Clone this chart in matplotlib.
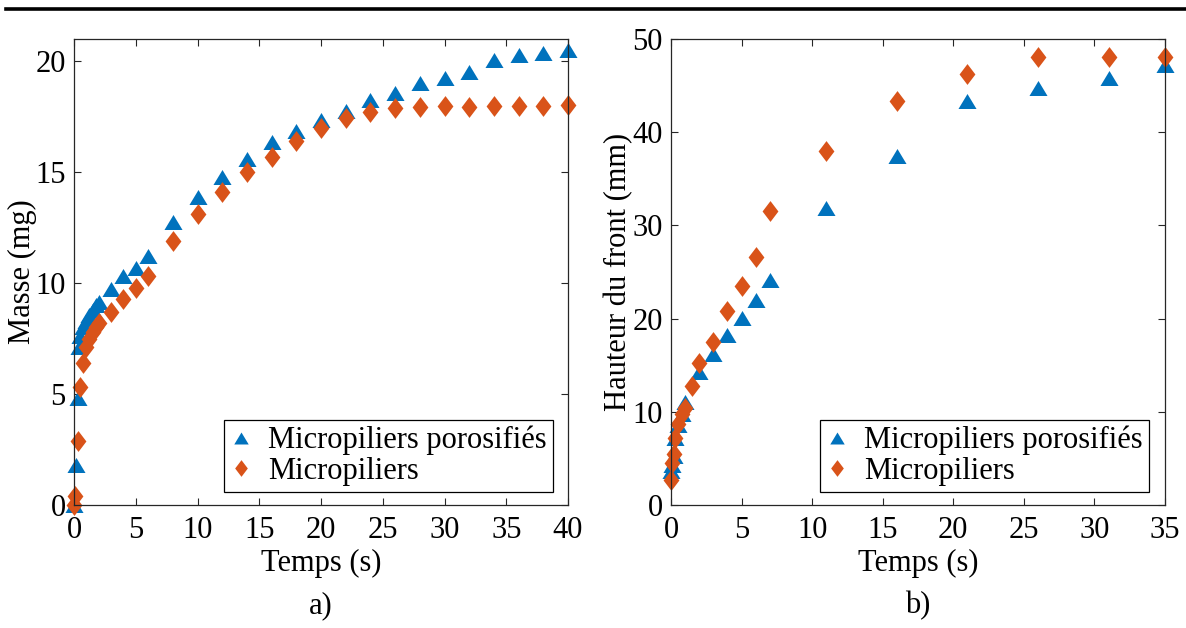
import numpy as np
import matplotlib
matplotlib.use("Agg")
from matplotlib import pyplot as plt
from matplotlib.lines import Line2D

plt.rcParams['font.family'] = ['Liberation Serif', 'DejaVu Serif']

BLUE = '#0072BD'
ORANGE = '#D95319'
AXCOL = '#262626'
FS = 22

# a) masse vs temps
t_masse_poro = [0, 0.15, 0.3, 0.4, 0.5, 0.75, 1, 1.25, 1.5, 1.75, 2, 3, 4, 5, 6,
                8, 10, 12, 14, 16, 18, 20, 22, 24, 26, 28, 30, 32, 34, 36, 38, 40]
m_poro = [0, 1.8, 4.8, 7.1, 7.6, 8.0, 8.3, 8.55, 8.8, 9.0, 9.15, 9.75, 10.3, 10.7, 11.2,
          12.75, 13.9, 14.8, 15.6, 16.35, 16.85, 17.35, 17.75, 18.25, 18.55, 19.0, 19.25,
          19.5, 20.05, 20.27, 20.37, 20.5]
t_masse_micro = [0, 0.1, 0.3, 0.5, 0.75, 1, 1.25, 1.5, 1.75, 2, 3, 4, 5, 6,
                 8, 10, 12, 14, 16, 18, 20, 22, 24, 26, 28, 30, 32, 34, 36, 38, 40]
m_micro = [0, 0.4, 2.9, 5.3, 6.4, 7.1, 7.5, 7.8, 8.0, 8.2, 8.7, 9.3, 9.8, 10.3,
           11.9, 13.1, 14.1, 15.0, 15.7, 16.4, 17.0, 17.45, 17.7, 17.9, 17.95, 17.97,
           17.95, 17.97, 18.0, 18.0, 18.02]

# b) hauteur du front vs temps
t_front_poro = [0, 0.1, 0.2, 0.3, 0.5, 0.75, 1, 2, 3, 4, 5, 6, 7, 11, 16, 21, 26, 31, 35]
h_poro = [3.6, 4.3, 5.3, 7.2, 8.6, 9.8, 11.1, 14.3, 16.2, 18.2, 20.1, 22.0, 24.1,
          31.9, 37.4, 43.3, 44.7, 45.8, 47.2]
t_front_micro = [0, 0.1, 0.2, 0.3, 0.5, 0.75, 1, 1.5, 2, 3, 4, 5, 6, 7, 11, 16, 21, 26, 31, 35]
h_micro = [2.7, 4.5, 5.5, 7.2, 8.7, 9.8, 10.4, 12.8, 15.2, 17.5, 20.8, 23.5, 26.6, 31.5,
           38.0, 43.4, 46.2, 48.1, 48.1, 48.1]

labels = ['Micropiliers porosifiés', 'Micropiliers']

tri = [(-1, -0.83), (1, -0.83), (0, 0.83)]
dia = [(0, 1), (0.76, 0), (0, -1), (-0.76, 0)]

W, H = 1186, 628
fig = plt.figure(figsize=(W / 100, H / 100), dpi=100)

# top rule
fig.add_artist(Line2D([6 / W, 1], [1 - 9 / H, 1 - 9 / H], color='black', lw=2.6))

ax1 = fig.add_axes([74 / W, 1 - 505 / H, 494 / W, 466 / H])
ax2 = fig.add_axes([671 / W, 1 - 505 / H, 494 / W, 466 / H])


def style(ax):
    for s in ax.spines.values():
        s.set_color(AXCOL)
        s.set_linewidth(0.9)
    ax.tick_params(direction='in', top=True, right=True, length=5, width=0.8,
                   color=AXCOL, labelsize=FS, pad=6)
    ax.tick_params(axis='x', pad=8)


ax1.plot(t_masse_poro, m_poro, ls='none', marker=tri, ms=13, color=BLUE, mew=0,
         label=labels[0], clip_on=False)
ax1.plot(t_masse_micro, m_micro, ls='none', marker=dia, ms=15, color=ORANGE, mew=0,
         label=labels[1], clip_on=False)
ax1.set_xlim(0, 40)
ax1.set_ylim(0, 21)
ax1.set_xticks(np.arange(0, 41, 5))
ax1.set_yticks(np.arange(0, 21, 5))
ax1.set_xlabel('Temps (s)', fontsize=FS, labelpad=3)
ax1.set_ylabel('Masse (mg)', fontsize=FS, labelpad=-1)
style(ax1)

ax2.plot(t_front_poro, h_poro, ls='none', marker=tri, ms=13, color=BLUE, mew=0,
         label=labels[0], clip_on=False)
ax2.plot(t_front_micro, h_micro, ls='none', marker=dia, ms=15, color=ORANGE, mew=0,
         label=labels[1], clip_on=False)
ax2.set_xlim(0, 35)
ax2.set_ylim(0, 50)
ax2.set_xticks(np.arange(0, 36, 5))
ax2.set_yticks(np.arange(0, 51, 10))
ax2.set_xlabel('Temps (s)', fontsize=FS, labelpad=3)
ax2.set_ylabel('Hauteur du front (mm)', fontsize=FS, labelpad=-1)
style(ax2)

for ax, right in [(ax1, 553), (ax2, 1149)]:
    leg = ax.legend(loc='lower right', bbox_to_anchor=(right / W, 1 - 492 / H),
                    bbox_transform=fig.transFigure, borderaxespad=0, fontsize=FS,
                    frameon=True, fancybox=False, framealpha=1, markerscale=0.8,
                    handlelength=0.7, handletextpad=0.55, borderpad=0.2, labelspacing=0.05)
    leg.get_frame().set_edgecolor('black')
    leg.get_frame().set_linewidth(0.9)

fig.text(321 / W, 1 - 606 / H, 'a)', fontsize=FS, ha='center', va='center')
fig.text(918 / W, 1 - 606 / H, 'b)', fontsize=FS, ha='center', va='center')

fig.savefig('out.png', dpi=100)
